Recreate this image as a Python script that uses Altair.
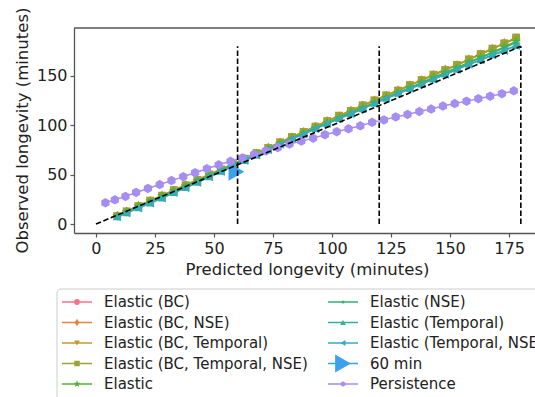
import altair as alt
import pandas as pd

# ---------------- data ----------------
series_names = [
    "Elastic (BC)", "Elastic (BC, NSE)", "Elastic (BC, Temporal)",
    "Elastic (BC, Temporal, NSE)", "Elastic", "Elastic (NSE)",
    "Elastic (Temporal)", "Elastic (Temporal, NSE)", "60 min", "Persistence",
]

x_elastic = [9, 13, 18, 23, 28, 33, 38, 43, 48, 53, 58, 63, 68, 73, 78, 83, 88, 93,
             98, 103, 108, 113, 118, 123, 128, 133, 138, 143, 148, 153, 158, 163,
             168, 173, 178]

y_elastic_bc = [8, 12.5, 18, 23.5, 28.5, 34, 39, 44.5, 50, 55, 60.5, 66, 71.5, 77,
                82.5, 88, 93, 98.5, 104, 109.5, 114.5, 120, 125, 130, 135, 140.5,
                145.5, 151, 156, 161, 166.5, 172, 177.5, 183, 188.5]
y_elastic_bc_nse = [8.5, 12.5, 18.5, 23, 29, 34, 39.5, 44.5, 50, 55.5, 60.5, 66.5,
                    71.5, 77.5, 82.5, 88, 93.5, 98.5, 104.5, 109, 115, 120, 125.5,
                    130, 135.5, 140.5, 146, 151, 156.5, 161, 167, 172, 177.5, 183.5,
                    188]
y_elastic_bc_temporal = [8, 13, 18.5, 24, 29, 34.5, 39.5, 45, 50.5, 55.5, 61, 66.5,
                         72, 77.5, 83, 88.5, 93.5, 99, 104.5, 110, 115, 120.5, 125.5,
                         130.5, 135.5, 141, 146, 151.5, 156.5, 161.5, 167, 172.5, 178,
                         183, 188]
y_elastic_bc_temporal_nse = [8, 12.5, 18, 23.5, 28.5, 34, 39, 44.5, 50, 55, 60.5, 66,
                             71.5, 77, 82.5, 88, 93, 98.5, 104, 109.5, 114.5, 120, 125,
                             130, 135, 140.5, 145.5, 151, 156, 161, 166.5, 172, 177.5,
                             183, 189]
y_elastic = [8, 12.5, 18, 23, 28.5, 33.5, 38.5, 44, 49.5, 54.5, 60, 65.5, 70.5, 76,
             81.5, 86.5, 92, 97, 102.5, 107.5, 113, 118, 123, 128, 133, 138, 143.5,
             148.5, 153.5, 158.5, 164, 169, 174, 179.5, 185]
y_elastic_nse = [8.5, 12.5, 18, 23, 28, 33.5, 38.5, 43.5, 49, 54.5, 59.5, 65, 70.5,
                 75.5, 81, 86.5, 91.5, 97, 102, 107.5, 112.5, 117.5, 122.5, 127.5,
                 132.5, 138, 143, 148, 153, 158, 163.5, 168.5, 173.5, 178.5, 184]
y_elastic_temporal = [7.5, 11.5, 16.5, 21.5, 26.5, 32, 37, 42.5, 48, 53.5, 59, 64.5,
                      70, 75.5, 81, 86.5, 91.5, 97, 102, 107, 112, 117, 122.5, 127.5,
                      132.5, 137.5, 142, 147, 152, 157, 162, 166.5, 171.5, 176, 181]
y_elastic_temporal_nse = [7, 11, 16, 21, 26, 31.5, 36.5, 42, 47.5, 53, 58.5, 64, 69.5,
                          75, 80.5, 86, 91, 96.5, 101.5, 106.5, 111.5, 116.5, 122, 127,
                          132, 137, 141.5, 146.5, 151.5, 156.5, 161.5, 166, 171, 175.5,
                          180.5]

x_60min = [59.5]
y_60min = [53]

x_persistence = [4, 8, 12.5, 17, 22, 27, 32, 37, 42, 47, 52, 57, 62, 67, 72, 77, 82,
                 87, 92, 97, 102, 107, 112, 117, 122, 127, 132, 137, 142, 147, 152,
                 157, 162, 167, 172, 177]
y_persistence = [21.5, 24.5, 28, 32, 36, 40, 44, 48, 52, 56, 60, 63.5, 67, 70.5, 74,
                 77.5, 81, 84, 87, 90.5, 93.5, 96.5, 99.5, 103, 105.5, 108.5, 111,
                 114, 116.5, 119.5, 122, 124.5, 127, 129.5, 132, 135]

diag_x = [0, 180]
diag_y = [0, 180]
vline_x = [60, 120, 180]
vline_y0 = [0, 0, 0]
vline_y1 = [180, 180, 180]

x_ticks = [0, 25, 50, 75, 100, 125, 150, 175]
y_ticks = [0, 50, 100, 150]

x_title = "Predicted longevity (minutes)"
y_title = "Observed longevity (minutes)"

# ---------------- styles ----------------
colors = ["#f77189", "#e4843a", "#c29a32", "#98a532", "#52b132", "#33b07a",
          "#35ae9c", "#37abb8", "#3ba1ec", "#a68df2"]

DIAMOND = "M0,-1L0.6,0L0,1L-0.6,0Z"
STAR = ("M0,-1L0.235,-0.324L0.951,-0.309L0.38,0.124L0.588,0.809L0,0.4"
        "L-0.588,0.809L-0.38,0.124L-0.951,-0.309L-0.235,-0.324Z")
HEXAGON = "M0,-1L0.866,-0.5L0.866,0.5L0,1L-0.866,0.5L-0.866,-0.5Z"

shapes = ["circle", DIAMOND, "triangle-down", "square", STAR, "circle",
          "triangle-up", "triangle-left", "triangle-right", HEXAGON]
plot_sizes = [70, 100, 70, 60, 110, 15, 70, 70, 330, 90]
legend_sizes = [34, 60, 34, 30, 55, 10, 34, 34, 330, 30]

FONT = "DejaVu Sans"
W, H = 461, 205

xscale = alt.Scale(domain=[-9.3, 186], nice=False, zero=False)
yscale = alt.Scale(domain=[-9.1, 198.6], nice=False, zero=False)
color_scale = alt.Scale(domain=series_names, range=colors)

xaxis = alt.Axis(values=x_ticks, title=x_title, grid=False, labelFlush=False,
                 titleX=233, titleY=41, titleBaseline="alphabetic")
yaxis = alt.Axis(values=y_ticks, title=y_title, grid=False, labelFlush=False,
                 titleX=-52, titleY=102, titleAngle=-90, titleAlign="center",
                 titleBaseline="middle")

series_x = [x_elastic] * 8 + [x_60min, x_persistence]
series_y = [y_elastic_bc, y_elastic_bc_nse, y_elastic_bc_temporal,
            y_elastic_bc_temporal_nse, y_elastic, y_elastic_nse,
            y_elastic_temporal, y_elastic_temporal_nse, y_60min, y_persistence]

layers = []
for i, name in enumerate(series_names):
    df = pd.DataFrame({"x": series_x[i], "y": series_y[i], "series": name})
    base = alt.Chart(df).encode(
        x=alt.X("x:Q", scale=xscale, axis=xaxis),
        y=alt.Y("y:Q", scale=yscale, axis=yaxis),
        color=alt.Color("series:N", scale=color_scale, legend=None),
    )
    if len(series_x[i]) > 1:
        layers.append(base.mark_line(strokeWidth=1.5))
    layers.append(base.mark_point(filled=True, opacity=1, shape=shapes[i],
                                  size=plot_sizes[i]))

diag_df = pd.DataFrame({"x": diag_x, "y": diag_y})
diag = alt.Chart(diag_df).mark_line(color="black", strokeWidth=1.6,
                                    strokeDash=[5.5, 2.5]).encode(
    x=alt.X("x:Q", scale=xscale, axis=xaxis),
    y=alt.Y("y:Q", scale=yscale, axis=yaxis),
)
vl_df = pd.DataFrame({"x": vline_x, "y0": vline_y0, "y1": vline_y1})
vlines = alt.Chart(vl_df).mark_rule(color="black", strokeWidth=1.6,
                                    strokeDash=[5.5, 2.5]).encode(
    x=alt.X("x:Q", scale=xscale, axis=xaxis),
    y=alt.Y("y0:Q", scale=yscale, axis=yaxis),
    y2="y1:Q",
)
top_border = alt.Chart(pd.DataFrame({"a": [0]})).mark_rule(
    color="#555555", strokeWidth=1.3).encode(
    x=alt.value(0), x2=alt.value(W), y=alt.value(0))

main = alt.layer(*layers, diag, vlines, top_border)

# ---------------- legend ----------------
leg_df = pd.DataFrame({
    "name": series_names,
    "col": [i // 5 for i in range(10)],
    "row": [i % 5 for i in range(10)],
    "lsize": legend_sizes,
})
lx = alt.X("col:Q", scale=alt.Scale(domain=[0, 1], range=[3, 269], nice=False,
                                    zero=False), axis=None)
ly = alt.Y("row:Q", scale=alt.Scale(domain=[0, 4], range=[274, 356], nice=False,
                                    zero=False), axis=None)
lcolor = alt.Color("name:N", scale=color_scale, legend=None)

frame = alt.Chart(pd.DataFrame({"a": [0]})).mark_rect(
    fill="white", stroke="#cccccc", strokeWidth=1, cornerRadius=4).encode(
    x=alt.value(-17), x2=alt.value(470), y=alt.value(261), y2=alt.value(380))
lrule = alt.Chart(leg_df).mark_rule(strokeWidth=1.5, xOffset=-15, x2Offset=15).encode(
    x=lx, x2="col:Q", y=ly, color=lcolor)
lpoint = alt.Chart(leg_df).mark_point(filled=True, opacity=1).encode(
    x=lx, y=ly, color=lcolor,
    shape=alt.Shape("name:N", scale=alt.Scale(domain=series_names, range=shapes),
                    legend=None),
    size=alt.Size("lsize:Q", scale=None, legend=None))
ltext = alt.Chart(leg_df).mark_text(align="left", baseline="middle", dx=27,
                                    fontSize=15, font=FONT, color="#222222").encode(
    x=lx, y=ly, text="name:N")

legend = alt.layer(frame, lrule, lpoint, ltext)

chart = alt.layer(main, legend).resolve_scale(
    x="independent", y="independent"
).properties(
    width=W, height=H,
    autosize=alt.AutoSizeParams(type="none"),
    padding={"left": 74, "top": 28, "right": 0, "bottom": 164},
).configure_view(stroke=None).configure_axis(
    domainColor="#555555", domainWidth=1.3, tickColor="#555555", tickWidth=1.2,
    tickSize=4, labelFont=FONT, labelFontSize=16, labelColor="#222222",
    titleFont=FONT, titleFontSize=16.5, titleColor="#222222", titleFontWeight="normal",
    labelPadding=3,
)

chart.save("out.html", embed_options={"renderer": "svg", "actions": False})
